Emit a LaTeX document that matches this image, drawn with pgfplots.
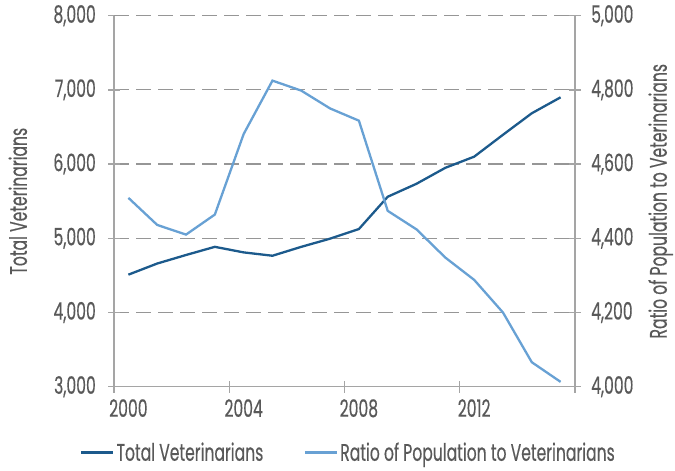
\documentclass[border=0pt]{standalone}
\usepackage{fontspec}
\setmainfont{Poppins}[FakeStretch=0.65, FakeBold=0.4]
\usepackage{pgfplots}
\pgfplotsset{compat=1.18}
\definecolor{vetdark}{RGB}{28,90,140}
\definecolor{vetlight}{RGB}{104,161,212}
\definecolor{axisgray}{RGB}{165,165,165}
\definecolor{gridgray}{RGB}{150,150,150}
\definecolor{textgray}{RGB}{89,89,89}
\newcommand{\vetfont}{\fontsize{24bp}{26bp}\selectfont}

\pgfplotsset{
  vetbase/.style={
    scale only axis, width=461bp, height=371bp,
    at={(114bp,84.3bp)}, anchor=south west,
    xmin=1999.5, xmax=2015.5,
    tick align=center, major tick length=12bp,
    tick style={axisgray, line width=1.3bp},
    axis line style={axisgray, line width=1.3bp},
    /pgf/number format/assume math mode=true,
    ticklabel style={textgray, font=\vetfont},
    every axis y label/.style={textgray, font=\vetfont, rotate=90, anchor=base},
  }
}

\begin{document}
\begin{tikzpicture}
\begin{axis}[
  vetbase, clip=false,
  axis y line*=left, axis x line*=bottom,
  ymin=3000, ymax=8000, ytick={3000,4000,...,8000},
  xtick={1999.5,2003.5,2007.5,2011.5,2015.5}, xticklabels={},
  extra x ticks={2000,2004,2008,2012},
  extra x tick labels={2000,2004,2008,2012},
  extra x tick style={major tick length=0pt},
  xticklabel style={yshift=-9bp},
  ymajorgrids, grid style={gridgray, line width=1.2bp, dash pattern=on 15bp off 7bp},
  yticklabel style={inner xsep=0pt, xshift=-12bp},
  every axis y label/.append style={at={(axis description cs:-0.189,0.5)}},
  ylabel={Total Veterinarians},
]
\draw[gridgray, line width=1.2bp, dash pattern=on 15bp off 7bp]
  (rel axis cs:0,1) -- (rel axis cs:1,1);
\addplot[vetdark, line width=2.3bp] coordinates {
  (2000,4510) (2001,4660) (2002,4775) (2003,4885) (2004,4810) (2005,4765)
  (2006,4885) (2007,4995) (2008,5125) (2009,5560) (2010,5735) (2011,5950)
  (2012,6100) (2013,6395) (2014,6685) (2015,6900)};
\end{axis}
\begin{axis}[
  vetbase,
  axis y line*=right, axis x line=none,
  ymin=4000, ymax=5000, ytick={4000,4200,...,5000},
  yticklabel style={inner xsep=0pt, xshift=10bp},
  every axis y label/.append style={at={(axis description cs:1.199,0.5)}},
  ylabel={Ratio of Population to Veterinarians},
  legend columns=2,
  legend style={draw=none, fill=none, at={(0.508,-0.177)}, anchor=center,
    font=\vetfont, text=textgray, inner sep=0pt,
    /tikz/every even column/.append style={column sep=38bp}},
  legend image code/.code={\draw[#1, line width=3bp] (0bp,0bp) -- (32bp,0bp);},
]
\addlegendimage{vetdark}
\addlegendentry{Total Veterinarians}
\addplot[vetlight, line width=2.3bp] coordinates {
  (2000,4509) (2001,4436) (2002,4410) (2003,4464) (2004,4681) (2005,4825)
  (2006,4798) (2007,4750) (2008,4717) (2009,4474) (2010,4424) (2011,4348)
  (2012,4288) (2013,4200) (2014,4066) (2015,4013)};
\addlegendentry{Ratio of Population to Veterinarians}
\end{axis}
\pgfresetboundingbox
\path[use as bounding box] (0,0) rectangle (675bp,471bp);
\end{tikzpicture}
\end{document}
